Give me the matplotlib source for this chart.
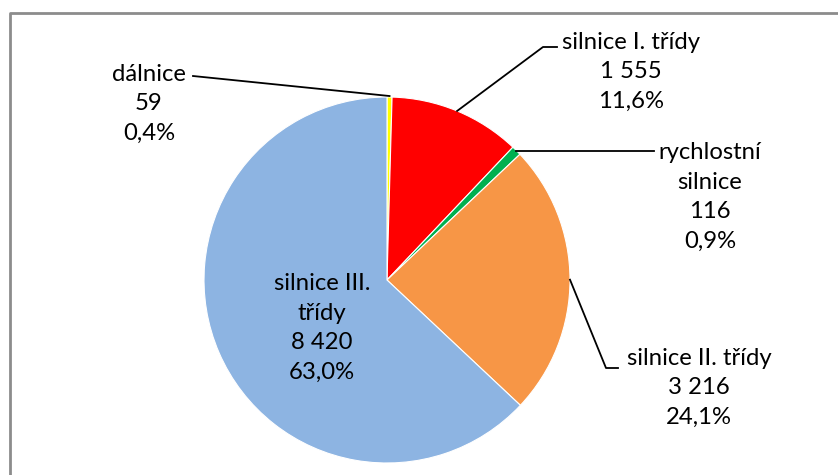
import matplotlib
matplotlib.use("Agg")
import matplotlib.pyplot as plt
import numpy as np

categories = ["dálnice", "silnice I. třídy", "rychlostní silnice", "silnice II. třídy", "silnice III. třídy"]
label_texts = ["dálnice", "silnice I. třídy", "rychlostní\nsilnice", "silnice II. třídy", "silnice III.\ntřídy"]
values = [59, 1555, 116, 3216, 8420]
value_labels = ["59", "1 555", "116", "3 216", "8 420"]
percent_labels = ["0,4%", "11,6%", "0,9%", "24,1%", "63,0%"]
colors = ["#FFFF00", "#FF0000", "#00B050", "#F79646", "#8DB4E2"]

W, H = 838, 475
fig = plt.figure(figsize=(W / 100, H / 100), dpi=100)
ax = fig.add_axes([0, 0, 1, 1])

cx, cy, R = 387, H - 280, 183
ax.pie(values, colors=colors, startangle=90, counterclock=False,
       center=(cx, cy), radius=R, frame=True,
       wedgeprops=dict(linewidth=0.8, edgecolor="white"))
ax.set_xlim(0, W)
ax.set_ylim(0, H)
ax.set_aspect("equal")
ax.axis("off")

# frame
ax.plot([10, 10, W + 5], [-5, H - 13, H - 13], color="#8c8c8c", lw=2, clip_on=False)

FONT = "Lato"
FS = 17.2

def py(y):
    return H - y

tot = sum(values)
cum = np.cumsum([0] + values)
mids = [90 - 360 * (cum[i] + values[i] / 2) / tot for i in range(len(values))]
edge = [(cx + R * np.cos(np.radians(a)), cy + R * np.sin(np.radians(a))) for a in mids]

def label(i, x, y_mid):
    txt = label_texts[i] + "\n" + value_labels[i] + "\n" + percent_labels[i]
    ax.text(x, py(y_mid), txt, ha="center", va="center", fontsize=FS, family=FONT,
            linespacing=1.5, color="black", multialignment="center")

# dálnice
label(0, 149, 104)
ax.plot([193, edge[0][0]], [py(76), edge[0][1] + 1], color="black", lw=1.3)
# silnice I.
label(1, 631, 72)
ax.plot([edge[1][0], 543, 557], [edge[1][1], py(47), py(47)], color="black", lw=1.3)
# rychlostní
label(2, 710, 197)
ax.plot([edge[2][0], 654], [edge[2][1], edge[2][1]], color="black", lw=1.3)
# silnice II.
label(3, 699, 388)
ax.plot([edge[3][0], 606, 618], [edge[3][1], py(368), py(368)], color="black", lw=1.3)
# silnice III. (inside)
label(4, 322, 328)

fig.savefig("out.png", dpi=100)
